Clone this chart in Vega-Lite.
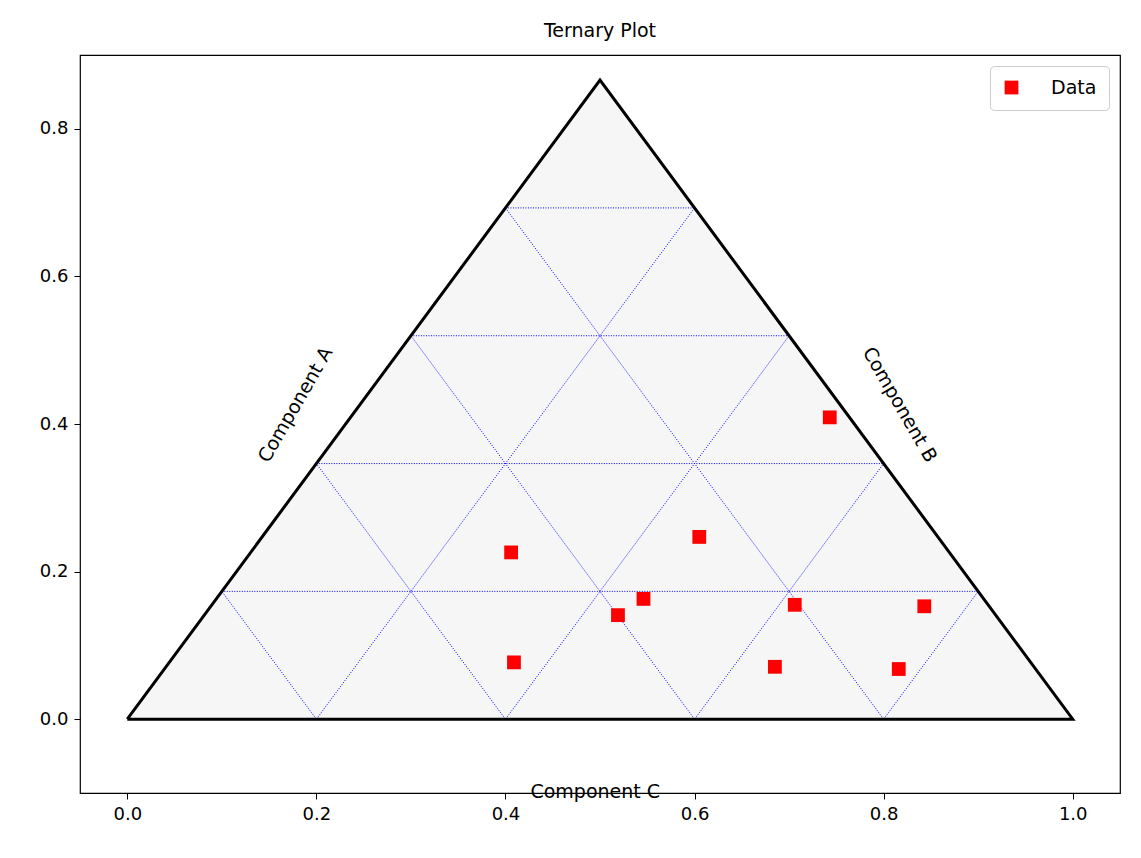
{
"$schema":"https://vega.github.io/schema/vega-lite/v6.json",
"width":1040,"height":738,"autosize":{"type":"none"},
"padding":{"left":80,"top":55,"right":21,"bottom":65},
"background":"white",
"config":{"view":{"stroke":"black","strokeWidth":1.2},"font":"DejaVu Sans",
"axis":{"grid":false,"labelFontSize":18,"labelColor":"black","tickColor":"black","domain":false,"tickSize":6,"labelPadding":6,"title":null}},
"title":{"text":"Ternary Plot","fontSize":19,"fontWeight":"normal","font":"DejaVu Sans","offset":14},
"datasets":{
"tri":[{"x":0,"y":0,"o":0},{"x":0.5,"y":0.866,"o":1},{"x":1,"y":0,"o":2},{"x":0,"y":0,"o":3}],
"grid":[
{"x":0.1,"y":0.1732,"x2":0.9,"y2":0.1732},{"x":0.2,"y":0.3464,"x2":0.8,"y2":0.3464},{"x":0.3,"y":0.5196,"x2":0.7,"y2":0.5196},{"x":0.4,"y":0.6928,"x2":0.6,"y2":0.6928},
{"x":0.2,"y":0,"x2":0.6,"y2":0.6928},{"x":0.4,"y":0,"x2":0.7,"y2":0.5196},{"x":0.6,"y":0,"x2":0.8,"y2":0.3464},{"x":0.8,"y":0,"x2":0.9,"y2":0.1732},
{"x":0.2,"y":0,"x2":0.1,"y2":0.1732},{"x":0.4,"y":0,"x2":0.2,"y2":0.3464},{"x":0.6,"y":0,"x2":0.3,"y2":0.5196},{"x":0.8,"y":0,"x2":0.4,"y2":0.6928}],
"pts":[{"x":0.406,"y":0.226,"s":"Data"},{"x":0.409,"y":0.077,"s":"Data"},{"x":0.519,"y":0.141,"s":"Data"},{"x":0.546,"y":0.163,"s":"Data"},{"x":0.605,"y":0.247,"s":"Data"},{"x":0.685,"y":0.071,"s":"Data"},{"x":0.706,"y":0.155,"s":"Data"},{"x":0.743,"y":0.409,"s":"Data"},{"x":0.816,"y":0.068,"s":"Data"},{"x":0.843,"y":0.153,"s":"Data"}],
"labels":[{"x":0.178,"y":0.426,"t":"Component A","a":-60},{"x":0.817,"y":0.426,"t":"Component B","a":60},{"x":0.495,"y":-0.099,"t":"Component C","a":0}]
},
"layer":[
{"data":{"name":"tri"},"mark":{"type":"area","color":"#f6f6f6","opacity":1},
"encoding":{"x":{"field":"x","type":"quantitative","scale":{"domain":[-0.05,1.05],"nice":false,"zero":false},"axis":{"values":[0,0.2,0.4,0.6,0.8,1.0],"format":".1f"}},
"y":{"field":"y","type":"quantitative","scale":{"domain":[-0.1,0.9],"nice":false,"zero":false},"axis":{"values":[0,0.2,0.4,0.6,0.8],"format":".1f"}},"order":{"field":"o"}}},
{"data":{"name":"grid"},"mark":{"type":"rule","color":"#0000ff","strokeWidth":1,"strokeDash":[1,1.5]},
"encoding":{"x":{"field":"x","type":"quantitative"},"y":{"field":"y","type":"quantitative"},"x2":{"field":"x2"},"y2":{"field":"y2"}}},
{"data":{"name":"tri"},"mark":{"type":"line","color":"black","strokeWidth":3},
"encoding":{"x":{"field":"x","type":"quantitative"},"y":{"field":"y","type":"quantitative"},"order":{"field":"o"}}},
{"data":{"name":"pts"},"mark":{"type":"point","shape":"square","filled":true,"size":190,"opacity":1},
"encoding":{"x":{"field":"x","type":"quantitative"},"y":{"field":"y","type":"quantitative"},
"color":{"field":"s","type":"nominal","scale":{"range":["red"]},"legend":{"title":null,"orient":"top-right","labelFontSize":19,"symbolSize":190,"symbolType":"square","strokeColor":"#cccccc","padding":12,"cornerRadius":4,"offset":11,"labelOffset":30,"fillColor":"white"}}}},
{"data":{"name":"labels"},"mark":{"type":"text","fontSize":19,"font":"DejaVu Sans","color":"black"},
"encoding":{"x":{"field":"x","type":"quantitative"},"y":{"field":"y","type":"quantitative"},"text":{"field":"t"},"angle":{"field":"a","type":"quantitative","scale":null}}}
]}
